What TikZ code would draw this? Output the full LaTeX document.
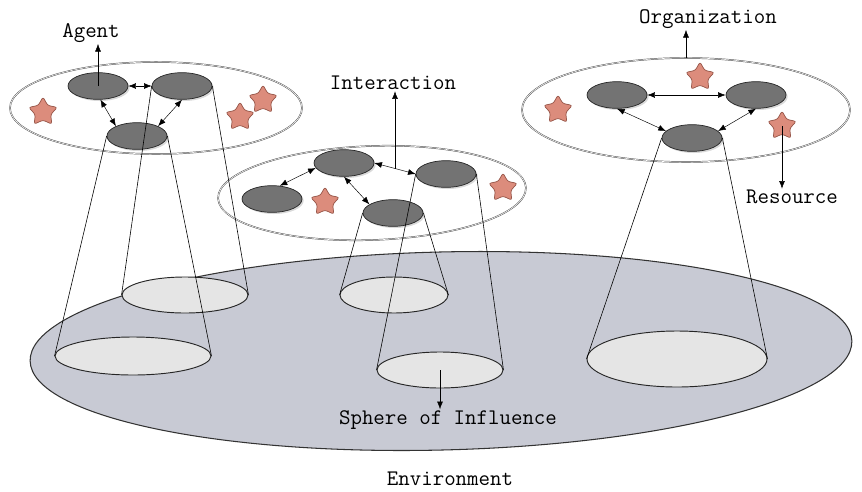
\documentclass[tikz,border=0pt]{standalone}
\usepackage{fontspec}
\usepackage{tikz}
\usetikzlibrary{shapes.geometric}
\usetikzlibrary{shadows}
\usetikzlibrary{arrows.meta}

\definecolor{envgray}{RGB}{200,202,212}
\definecolor{starfill}{RGB}{220,140,124}
\definecolor{stardraw}{RGB}{150,85,72}

\tikzset{
  agent/.style={ellipse, draw=black!85, fill=black!55, inner sep=0pt, line width=0.6pt,
    minimum width=1.8cm, minimum height=0.8cm,
    drop shadow={opacity=0.3, shadow xshift=0.05cm, shadow yshift=-0.05cm}},
  sphere/.style={ellipse, draw=black!85, fill=black!10, inner sep=0pt, line width=0.8pt},
  group/.style={ellipse, draw=black!70, double=white, double distance=0.5pt, inner sep=0pt},
  res/.style={star, star points=5, star point ratio=1.85, minimum size=0.9cm, inner sep=0pt,
    fill=starfill, draw=stardraw, line width=0.6pt, rounded corners=2pt},
  cone/.style={black, line width=0.5pt},
  lbl/.style={font=\ttfamily\fontsize{19}{21}\selectfont, inner sep=1pt}
}

\begin{document}
\begin{tikzpicture}[x=0.03cm, y=-0.03cm, >={Latex[length=6.5pt,width=5pt]}]
    \useasboundingbox (0,0) rectangle (862,491);

    % Environment
    \node[ellipse, draw=black!80, fill=envgray, inner sep=0pt, rotate=1.4, line width=0.9pt,
          minimum width=24.66cm, minimum height=5.94cm] (env) at (441,351) {};
    \node[lbl] (envlbl) at (450,479) {Environment};

    % Spheres of influence
    \node[sphere, minimum width=3.78cm, minimum height=1.08cm] (s1) at (185,295) {};
    \node[sphere, minimum width=4.68cm, minimum height=1.14cm] (s2) at (133,356) {};
    \node[sphere, minimum width=3.24cm, minimum height=1.08cm] (s3) at (394,295) {};
    \node[sphere, minimum width=3.78cm, minimum height=1.08cm] (s4) at (440,370) {};
    \node[sphere, minimum width=5.4cm, minimum height=1.68cm] (s5) at (677,359) {};

    % Organizations
    \node[group, minimum width=8.76cm, minimum height=2.76cm] (g1) at (156,108) {};
    \node[group, minimum width=9.24cm, minimum height=2.82cm, rotate=2] (g2) at (372,193) {};
    \node[group, minimum width=9.84cm, minimum height=3.12cm] (g3) at (686,110) {};

    % Resources
    \node[res] (r1) at (43,112) {};
    \node[res] (r2) at (240,117) {};
    \node[res] (r3) at (263,100) {};
    \node[res] (r4) at (325,202) {};
    \node[res] (r5) at (503,188) {};
    \node[res] (r6) at (700,77) {};
    \node[res] (r7) at (558,110) {};
    \node[res] (r8) at (782,126) {};

    % Agents
    \node[agent] (a1) at (98,86) {};
    \node[agent] (a2) at (182,86) {};
    \node[agent] (a3) at (137,136) {};
    \node[agent] (b1) at (344,163) {};
    \node[agent] (b2) at (272,199) {};
    \node[agent] (b3) at (446,174) {};
    \node[agent] (b4) at (393,213) {};
    \node[agent] (c1) at (617,95) {};
    \node[agent] (c2) at (756,95) {};
    \node[agent] (c3) at (692,138) {};

    % Cones
    \draw[cone] (a2.west) -- (s1.west);
    \draw[cone] (a2.east) -- (s1.east);
    \draw[cone] (a3.west) -- (s2.west);
    \draw[cone] (a3.east) -- (s2.east);
    \draw[cone] (b4.west) -- (s3.west);
    \draw[cone] (b4.east) -- (s3.east);
    \draw[cone] (b3.west) -- (s4.west);
    \draw[cone] (b3.east) -- (s4.east);
    \draw[cone] (c3.west) -- (s5.west);
    \draw[cone] (c3.east) -- (s5.east);

    % Interactions
    \draw[<->] (a1.east) -- (a2.west);
    \draw[<->] (a1.-80) -- (a3.155);
    \draw[<->] (a2.south) -- (a3.25);
    \draw[<->] (b1.190) -- (b2.60);
    \draw[<->] (b1.east) -- coordinate[midway] (ib) (b3.west);
    \draw[<->] (b1.south) -- (b4.160);
    \draw[<->] (c1.east) -- (c2.west);
    \draw[<->] (c1.south) -- (c3.165);
    \draw[<->] (c2.south) -- (c3.15);

    % Labels
    \node[lbl] (agentlbl) at (91,33) {Agent};
    \node[lbl] (interlbl) at (393,83) {Interaction};
    \node[lbl] (orglbl) at (708,19) {Organization};
    \node[lbl] (reslbl) at (792,197) {Resource};
    \node[lbl] (sphlbl) at (448,420) {Sphere of Influence};

    \draw[->] (a1.center) -- (a1.center |- agentlbl.south);
    \draw[->] (ib) -- (ib |- interlbl.south);
    \draw[->] (g3.north) -- (g3.north |- orglbl.south);
    \draw[->] (r8.center) -- (r8.center |- reslbl.north);
    \draw[->] (s4.center) -- (s4.center |- sphlbl.north);
\end{tikzpicture}
\end{document}
